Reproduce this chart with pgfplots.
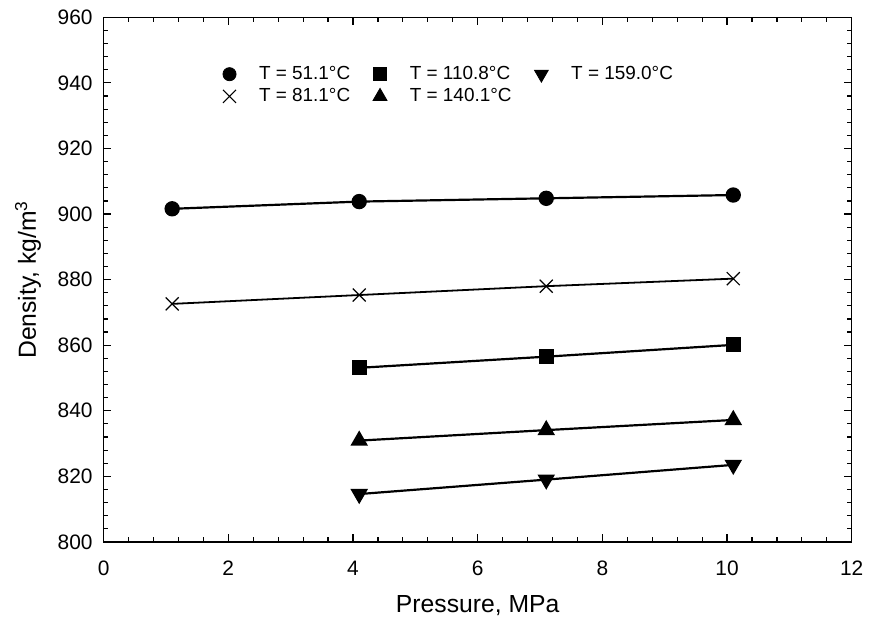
\documentclass[border=0pt]{standalone}
\usepackage{fontspec}
\setmainfont{Liberation Sans}
\usepackage{pgfplots}
\pgfplotsset{compat=1.18}
\begin{document}
\begin{tikzpicture}
\begin{axis}[
  scale only axis, width=375.5pt, height=263.3pt,
  xmin=0, xmax=12, ymin=800, ymax=960,
  xtick={0,2,...,12}, ytick={800,820,...,960},
  minor x tick num=4, minor y tick num=4,
  tick align=inside,
  major tick length=3.8pt, minor tick length=2.4pt,
  axis line style={line width=0.7pt},
  every tick/.style={black, line width=0.6pt},
  /pgf/number format/assume math mode=true,
  tick label style={font=\fontsize{10.5}{12}\selectfont},
  xticklabel style={yshift=-6pt},
  yticklabel style={xshift=-2pt},
  label style={font=\fontsize{12.4}{14}\selectfont},
  xlabel={Pressure, MPa},
  ylabel={Density, kg/m\textsuperscript{3}},
  xlabel style={yshift=-3pt},
  ylabel style={yshift=1.5pt},
  legend columns=3,
  legend style={at={(rel axis cs:0.151,0.923)}, anchor=north west, draw=none, fill=none,
    font=\fontsize{9.5}{11}\selectfont, row sep=-1pt,
    /tikz/every odd column/.append style={column sep=9.5pt},
    /tikz/every even column/.append style={column sep=9.5pt}},
  legend cell align=left,
]
% lines with markers
\addplot[forget plot, black, line width=1.1pt, mark=*, mark size=3.3pt] coordinates {(1.1,901.6) (4.1,903.8) (7.1,904.8) (10.1,905.8)};
\addplot[forget plot, black, line width=0.9pt, mark=x, mark size=4.6pt, mark options={line width=0.6pt}] coordinates {(1.1,872.6) (4.1,875.3) (7.1,878.0) (10.1,880.3)};
\addplot[forget plot, black, line width=1.1pt, mark=square*, mark size=3.2pt] coordinates {(4.1,853.1) (7.1,856.5) (10.1,860.1)};
\addplot[forget plot, black, line width=1.1pt, mark=triangle*, mark size=4pt] coordinates {(4.1,830.9) (7.1,834.1) (10.1,837.2)};
\addplot[forget plot, black, line width=1.1pt, mark=triangle*, mark size=4pt, mark options={rotate=180}] coordinates {(4.1,814.6) (7.1,819.0) (10.1,823.5)};
% legend in row-major order
\addlegendimage{only marks, black, mark=*, mark size=3.3pt}
\addlegendentry{T = 51.1°C}
\addlegendimage{only marks, black, mark=square*, mark size=3.2pt}
\addlegendentry{T = 110.8°C}
\addlegendimage{only marks, black, mark=triangle*, mark size=4pt, mark options={rotate=180}}
\addlegendentry{T = 159.0°C}
\addlegendimage{only marks, black, mark=x, mark size=4.6pt, mark options={line width=0.6pt}}
\addlegendentry{T = 81.1°C}
\addlegendimage{only marks, black, mark=triangle*, mark size=4pt}
\addlegendentry{T = 140.1°C}
\end{axis}
\path (current axis.south west) ++(-52pt,-41pt) rectangle ++(435pt,313pt);
\end{tikzpicture}
\end{document}
